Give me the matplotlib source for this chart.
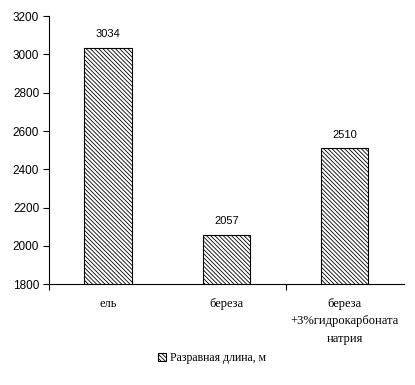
import matplotlib
matplotlib.use('Agg')
import matplotlib.pyplot as plt
import numpy as np

categories = ['ель', 'береза', 'береза\n+3%гидрокарбоната\nнатрия']
values = [3034, 2057, 2510]
series_name = 'Разравная длина, м'
y_ticks = [1800, 2000, 2200, 2400, 2600, 2800, 3000, 3200]

plt.rcParams['hatch.linewidth'] = 0.6
plt.rcParams['font.family'] = 'Liberation Sans'

fig = plt.figure(figsize=(4.15, 3.85), dpi=100)
ax = fig.add_axes([0.118, 0.262, 0.855, 0.696])

x = np.arange(len(categories))
bars = ax.bar(x, values, width=0.4, bottom=0, color='white', edgecolor='black',
              linewidth=0.8, hatch='\\' * 8, label=series_name)

for xi, v in zip(x, values):
    ax.text(xi, v + 45, str(v), ha='center', va='bottom', fontsize=8)

ax.set_xlim(-0.5, 2.5)
ax.set_ylim(1800, 3200)
ax.set_yticks(y_ticks)
ax.tick_params(axis='y', direction='out', length=4, width=0.8, labelsize=8.5, pad=3)

ax.set_xticks(x)
ax.set_xticklabels(categories, family='Liberation Serif', fontsize=9, linespacing=1.6)
ax.tick_params(axis='x', length=0, pad=10)
ax.set_xticks([-0.5, 1.5], minor=True)
ax.tick_params(axis='x', which='minor', direction='out', length=4, width=0.8)

for s in ['top', 'right']:
    ax.spines[s].set_visible(False)
for s in ['left', 'bottom']:
    ax.spines[s].set_linewidth(0.8)

fig.legend(handles=[bars], labels=[series_name], loc='center', bbox_to_anchor=(0.51, 0.07),
           frameon=False, prop={'family': 'Liberation Serif', 'size': 8.5},
           handlelength=0.7, handleheight=0.7, handletextpad=0.3)

fig.savefig('out.png', dpi=100)
